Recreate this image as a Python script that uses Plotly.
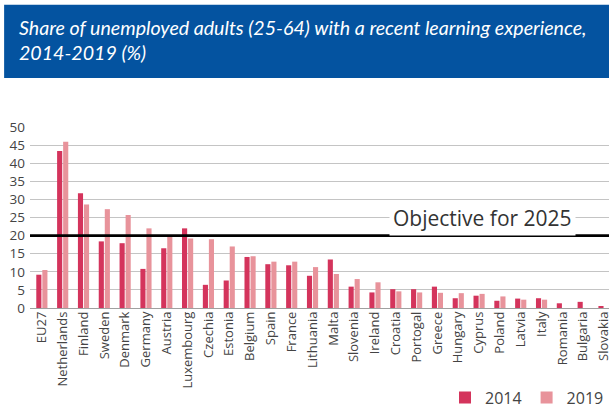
import plotly.graph_objects as go

countries = ["EU27", "Netherlands", "Finland", "Sweden", "Denmark", "Germany", "Austria",
             "Luxembourg", "Czechia", "Estonia", "Belgium", "Spain", "France", "Lithuania",
             "Malta", "Slovenia", "Ireland", "Croatia", "Portogal", "Greece", "Hungary",
             "Cyprus", "Poland", "Latvia", "Italy", "Romania", "Bulgaria", "Slovakia"]

share_2014 = [9.2, 43.4, 31.7, 18.4, 17.9, 10.8, 16.5, 22.0, 6.4, 7.6, 14.1, 12.1, 11.8, 8.9,
              13.4, 5.9, 4.3, 5.2, 5.2, 5.9, 2.7, 3.4, 2.0, 2.6, 2.7, 1.3, 1.7, 0.5]
share_2019 = [10.5, 45.9, 28.6, 27.3, 25.7, 22.0, 19.9, 19.2, 19.0, 17.0, 14.3, 12.8, 12.8, 11.3,
              9.4, 8.0, 7.1, 4.6, 4.3, 4.2, 4.1, 3.9, 3.2, 2.3, 2.3, None, None, None]

objective = 20
y_ticks = list(range(0, 51, 5))

COL_2014 = "#D4345C"
COL_2019 = "#E8939B"
TXT = "#444444"

fig = go.Figure()
fig.add_trace(go.Bar(x=countries, y=share_2014, name="2014", marker=dict(color=COL_2014, line_width=0)))
fig.add_trace(go.Bar(x=countries, y=share_2019, name="2019", marker=dict(color=COL_2019, line_width=0)))

# header band with the chart title
fig.add_shape(type="rect", xref="paper", yref="paper",
              x0=-0.0447, x1=1.0, y0=1.2703, y1=1.6757,
              fillcolor="#0453A0", line_width=0, layer="below")
fig.add_annotation(xref="paper", yref="paper", x=-0.022, y=1.625, xanchor="left", yanchor="top",
                   align="left", showarrow=False,
                   text="Share of unemployed adults (25-64) with a recent learning experience,<br>2014-2019 (%)",
                   font=dict(family="Lato", size=19.6, color="white", style="italic"))

# 2025 target line
fig.add_shape(type="line", xref="paper", yref="y", x0=0, x1=1, y0=objective, y1=objective,
              line=dict(color="black", width=2.6))
fig.add_annotation(xref="paper", yref="y", x=0.782, y=25, xanchor="center", yanchor="middle",
                   showarrow=False, text="Objective for 2025", bgcolor="white", borderpad=3,
                   font=dict(family="Open Sans", size=21, color="#333333"))

fig.update_layout(
    width=612, height=415,
    margin=dict(l=30, r=0, t=127, b=103),
    paper_bgcolor="white", plot_bgcolor="white",
    barmode="group", bargap=0.42, bargroupgap=0.15,
    font=dict(family="Open Sans", color=TXT, size=13),
    showlegend=True,
    legend=dict(orientation="h", x=1.0, y=-0.495, xanchor="right", yanchor="middle",
                font=dict(size=16, color=TXT), itemwidth=30, traceorder="normal"),
    xaxis=dict(range=[-0.57, 27.24], tickangle=-90, showgrid=False, showline=False,
               ticks="", tickfont=dict(size=13, color=TXT)),
    yaxis=dict(range=[0, 50], tickvals=y_ticks, showgrid=True, gridcolor="#c4c4c4", gridwidth=1,
               zeroline=True, zerolinecolor="#a0a0a0", zerolinewidth=1,
               ticks="", ticklabelstandoff=4, tickfont=dict(size=13.5, color=TXT)),
)

fig.write_html("out.html")
